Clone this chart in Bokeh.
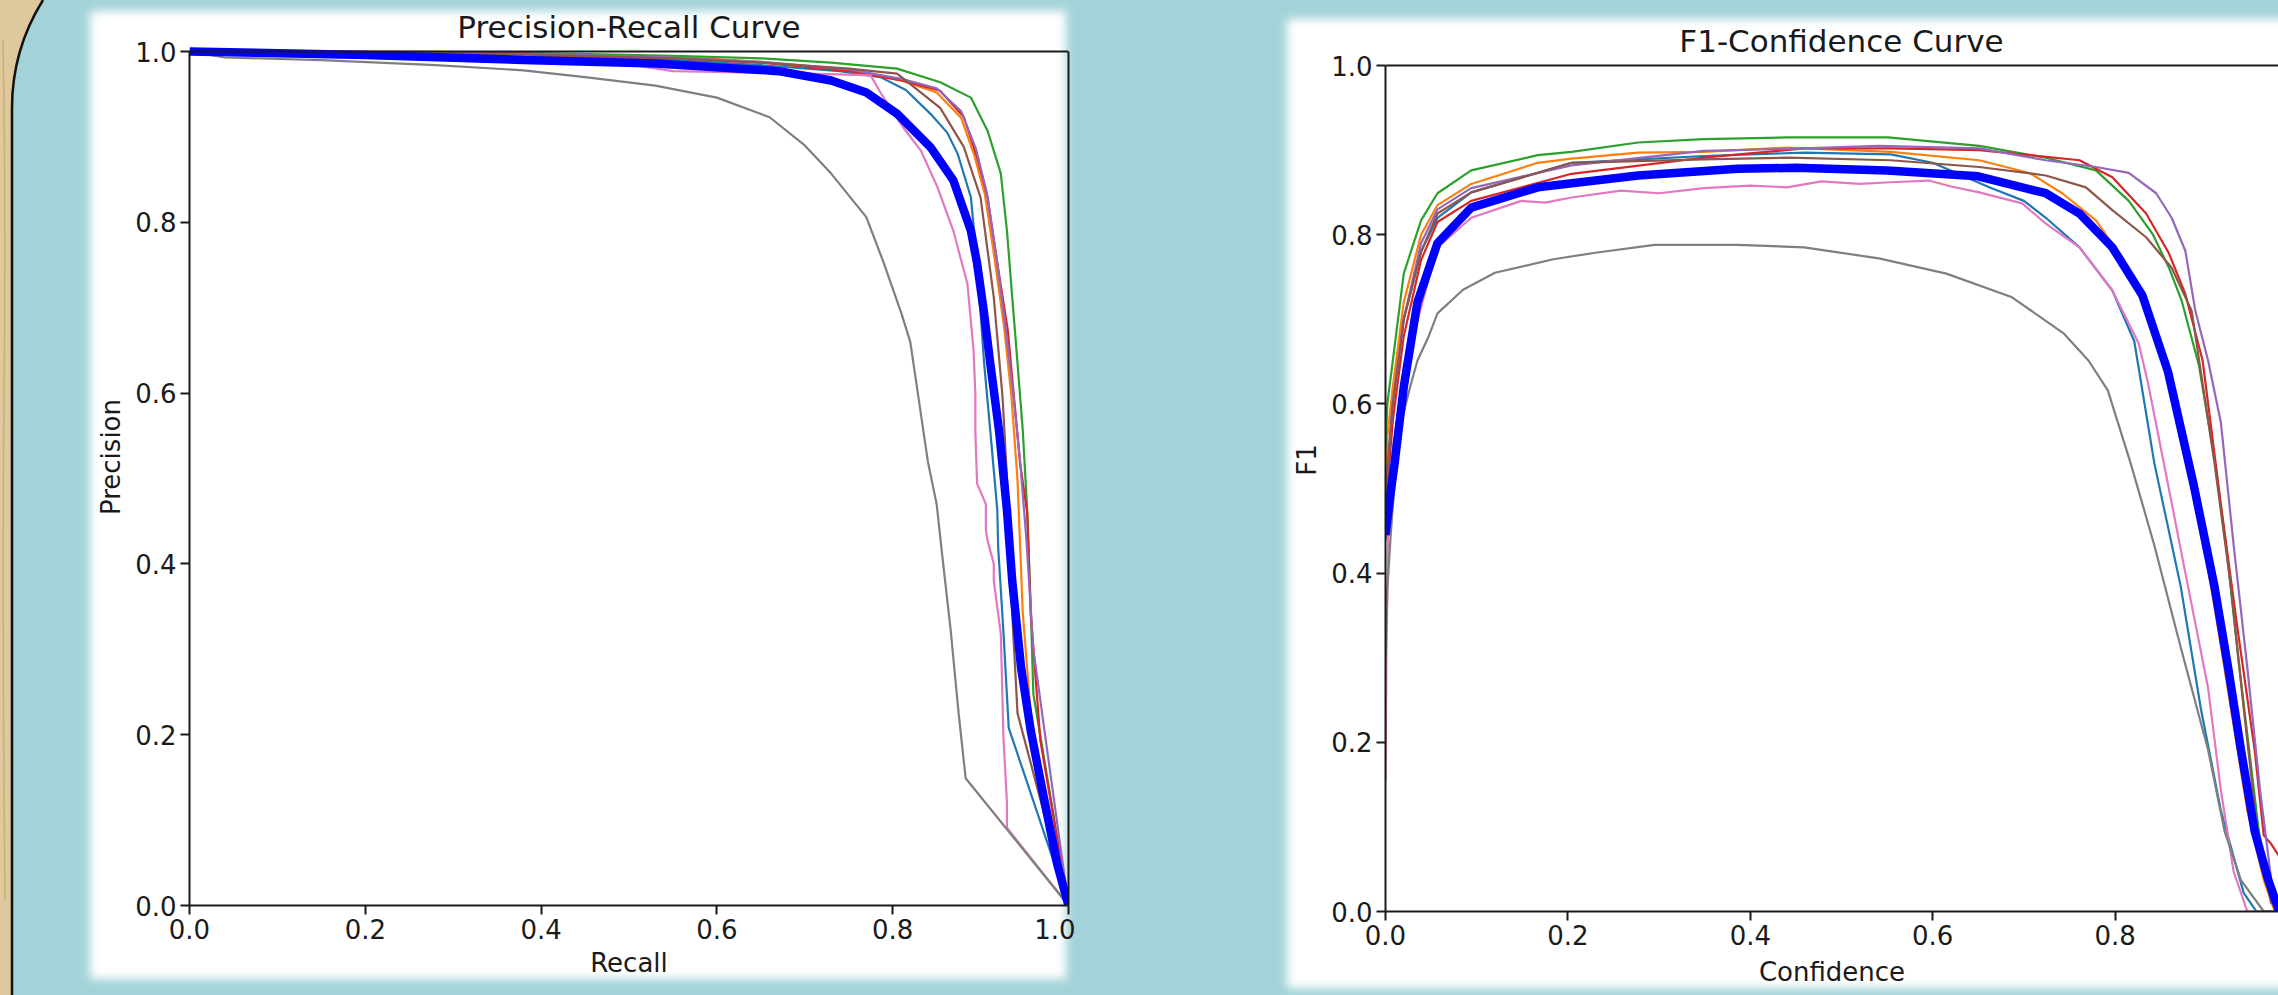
from urllib.parse import quote
from bokeh.plotting import figure
from bokeh.models import Range1d, FixedTicker, PrintfTickFormatter, Span, Label, LinearAxis
from bokeh.layouts import row
from bokeh.embed import file_html
from bokeh.resources import INLINE

# ---------------- data ----------------
PR_TITLE = "Precision-Recall Curve"
F1_TITLE = "F1-Confidence Curve"
PR_XLABEL = "Recall"
PR_YLABEL = "Precision"
F1_XLABEL = "Confidence"
F1_YLABEL = "F1"
TICKS = [0.0, 0.2, 0.4, 0.6, 0.8, 1.0]

CLASS_COLORS = ["#1f77b4", "#ff7f0e", "#2ca02c", "#d62728",
                "#9467bd", "#8c564b", "#e377c2", "#7f7f7f"]
ALL_COLOR = "#0000ff"

# Precision-Recall, one pair per class
pr_r_c0 = [0.0, 0.15, 0.3, 0.45, 0.55, 0.65, 0.74, 0.786, 0.815, 0.843, 0.862, 0.874, 0.889, 0.896, 0.904, 0.911, 0.919, 0.920, 0.926, 0.932, 1.0]
pr_p_c0 = [1.0, 0.998, 0.996, 0.993, 0.99, 0.984, 0.977, 0.970, 0.955, 0.927, 0.905, 0.88, 0.829, 0.752, 0.635, 0.556, 0.463, 0.419, 0.32, 0.208, 0.0]
pr_r_c1 = [0.0, 0.15, 0.3, 0.45, 0.55, 0.65, 0.75, 0.81, 0.85, 0.878, 0.893, 0.905, 0.916, 0.927, 0.935, 0.942, 0.948, 0.957, 0.975, 1.0]
pr_p_c1 = [1.0, 0.999, 0.998, 0.996, 0.994, 0.988, 0.978, 0.966, 0.952, 0.922, 0.878, 0.832, 0.757, 0.675, 0.597, 0.498, 0.342, 0.225, 0.10, 0.0]
pr_r_c2 = [0.0, 0.2, 0.4, 0.55, 0.65, 0.73, 0.805, 0.854, 0.889, 0.908, 0.923, 0.930, 0.936, 0.942, 0.948, 0.953, 0.957, 0.960, 1.0]
pr_p_c2 = [1.0, 0.999, 0.998, 0.995, 0.992, 0.987, 0.980, 0.964, 0.946, 0.907, 0.857, 0.790, 0.712, 0.635, 0.556, 0.463, 0.35, 0.248, 0.0]
pr_r_c3 = [0.0, 0.2, 0.38, 0.4, 0.55, 0.65, 0.75, 0.81, 0.854, 0.881, 0.896, 0.908, 0.919, 0.931, 0.938, 0.945, 0.953, 0.957, 0.968, 1.0]
pr_p_c3 = [1.0, 1.0, 0.999, 0.995, 0.992, 0.987, 0.977, 0.966, 0.954, 0.923, 0.876, 0.829, 0.752, 0.673, 0.595, 0.517, 0.46, 0.342, 0.193, 0.0]
pr_r_c4 = [0.0, 0.2, 0.4, 0.55, 0.65, 0.75, 0.81, 0.85, 0.878, 0.895, 0.907, 0.918, 0.928, 0.937, 0.945, 0.952, 0.96, 1.0]
pr_p_c4 = [1.0, 0.999, 0.997, 0.993, 0.988, 0.979, 0.968, 0.957, 0.93, 0.885, 0.835, 0.76, 0.68, 0.60, 0.52, 0.43, 0.30, 0.0]
pr_r_c5 = [0.0, 0.2, 0.4, 0.55, 0.65, 0.75, 0.805, 0.854, 0.881, 0.9, 0.915, 0.925, 0.932, 0.936, 0.942, 1.0]
pr_p_c5 = [1.0, 0.999, 0.996, 0.992, 0.987, 0.98, 0.974, 0.934, 0.888, 0.829, 0.712, 0.595, 0.463, 0.342, 0.225, 0.0]
pr_r_c6 = [0.0, 0.2, 0.4, 0.5, 0.55, 0.6, 0.65, 0.7, 0.75, 0.775, 0.786, 0.80, 0.812, 0.832, 0.851, 0.869, 0.885, 0.892, 0.894, 0.894, 0.896, 0.906, 0.906, 0.908, 0.915, 0.915, 0.923, 0.926, 0.93, 0.93, 1.0]
pr_p_c6 = [1.0, 0.997, 0.99, 0.985, 0.977, 0.976, 0.975, 0.974, 0.973, 0.972, 0.952, 0.93, 0.911, 0.884, 0.841, 0.79, 0.728, 0.65, 0.60, 0.556, 0.494, 0.47, 0.44, 0.427, 0.40, 0.38, 0.318, 0.197, 0.12, 0.091, 0.0]
pr_r_c7 = [0.0, 0.04, 0.15, 0.28, 0.38, 0.45, 0.53, 0.60, 0.66, 0.70, 0.73, 0.77, 0.79, 0.81, 0.82, 0.83, 0.84, 0.85, 0.857, 0.866, 0.875, 0.883, 1.0]
pr_p_c7 = [1.0, 0.993, 0.99, 0.984, 0.978, 0.97, 0.96, 0.946, 0.923, 0.89, 0.857, 0.806, 0.752, 0.693, 0.66, 0.59, 0.52, 0.47, 0.404, 0.322, 0.225, 0.149, 0.0]
pr_r_all = [0.0, 0.2, 0.38, 0.53, 0.67, 0.73, 0.77, 0.805, 0.843, 0.869, 0.889, 0.896, 0.904, 0.911, 0.921, 0.930, 0.936, 0.946, 0.957, 0.972, 0.987, 1.0]
pr_p_all = [1.0, 0.996, 0.99, 0.986, 0.977, 0.966, 0.952, 0.927, 0.888, 0.849, 0.79, 0.752, 0.693, 0.635, 0.556, 0.463, 0.38, 0.279, 0.205, 0.126, 0.049, 0.0]

# F1-Confidence, one pair per class
f1_c_c0 = [0.0, 0.002, 0.008, 0.02, 0.039, 0.057, 0.094, 0.204, 0.349, 0.459, 0.554, 0.60, 0.662, 0.70, 0.724, 0.761, 0.797, 0.821, 0.843, 0.872, 0.894, 0.916, 0.941, 0.955, 1.0]
f1_f_c0 = [0.45, 0.52, 0.60, 0.70, 0.78, 0.82, 0.85, 0.885, 0.893, 0.897, 0.895, 0.885, 0.856, 0.84, 0.82, 0.785, 0.734, 0.674, 0.530, 0.384, 0.240, 0.119, 0.022, 0.0, 0.0]
f1_c_c1 = [0.0, 0.002, 0.008, 0.02, 0.039, 0.057, 0.094, 0.167, 0.204, 0.277, 0.349, 0.441, 0.554, 0.651, 0.706, 0.742, 0.779, 0.815, 0.858, 0.886, 0.909, 0.927, 0.945, 0.963, 0.975, 1.0]
f1_f_c1 = [0.50, 0.56, 0.62, 0.72, 0.80, 0.835, 0.86, 0.885, 0.89, 0.897, 0.898, 0.903, 0.898, 0.888, 0.873, 0.849, 0.817, 0.761, 0.650, 0.505, 0.360, 0.240, 0.119, 0.037, 0.0, 0.0]
f1_c_c2 = [0.0, 0.002, 0.008, 0.02, 0.039, 0.057, 0.094, 0.167, 0.204, 0.277, 0.349, 0.441, 0.551, 0.651, 0.724, 0.779, 0.815, 0.841, 0.859, 0.873, 0.892, 0.909, 0.922, 0.935, 0.946, 0.957, 0.966, 0.975, 0.982, 1.0]
f1_f_c2 = [0.55, 0.60, 0.651, 0.754, 0.817, 0.849, 0.876, 0.894, 0.898, 0.909, 0.913, 0.915, 0.915, 0.905, 0.891, 0.876, 0.840, 0.801, 0.761, 0.722, 0.645, 0.535, 0.43, 0.30, 0.20, 0.10, 0.04, 0.01, 0.0, 0.0]
f1_c_c3 = [0.0, 0.002, 0.008, 0.02, 0.039, 0.057, 0.094, 0.204, 0.349, 0.459, 0.554, 0.651, 0.761, 0.797, 0.834, 0.859, 0.877, 0.896, 0.916, 0.934, 0.953, 0.963, 0.971, 0.98, 0.99, 1.0]
f1_f_c3 = [0.44, 0.50, 0.58, 0.68, 0.77, 0.815, 0.84, 0.872, 0.891, 0.902, 0.902, 0.900, 0.888, 0.868, 0.825, 0.778, 0.730, 0.651, 0.481, 0.336, 0.191, 0.09, 0.08, 0.065, 0.0, 0.0]
f1_c_c4 = [0.0, 0.002, 0.008, 0.02, 0.039, 0.057, 0.094, 0.204, 0.349, 0.459, 0.541, 0.651, 0.724, 0.779, 0.815, 0.845, 0.862, 0.877, 0.888, 0.902, 0.916, 0.930, 0.945, 0.959, 0.973, 0.985, 1.0]
f1_f_c4 = [0.45, 0.52, 0.60, 0.70, 0.79, 0.83, 0.855, 0.882, 0.899, 0.902, 0.905, 0.902, 0.888, 0.880, 0.873, 0.849, 0.820, 0.781, 0.710, 0.651, 0.578, 0.433, 0.288, 0.143, 0.022, 0.0, 0.0]
f1_c_c5 = [0.0, 0.002, 0.008, 0.02, 0.039, 0.057, 0.094, 0.204, 0.349, 0.441, 0.554, 0.651, 0.724, 0.768, 0.797, 0.834, 0.862, 0.884, 0.909, 0.927, 0.941, 0.956, 0.971, 1.0]
f1_f_c5 = [0.44, 0.52, 0.60, 0.70, 0.78, 0.825, 0.85, 0.885, 0.889, 0.891, 0.888, 0.880, 0.870, 0.856, 0.829, 0.797, 0.761, 0.710, 0.530, 0.384, 0.240, 0.095, 0.01, 0.0]
f1_c_c6 = [0.0, 0.001, 0.003, 0.008, 0.02, 0.035, 0.057, 0.094, 0.149, 0.175, 0.204, 0.258, 0.30, 0.349, 0.40, 0.44, 0.478, 0.52, 0.554, 0.596, 0.62, 0.651, 0.698, 0.724, 0.761, 0.797, 0.826, 0.836, 0.858, 0.880, 0.902, 0.916, 0.930, 0.945, 1.0]
f1_f_c6 = [0.155, 0.30, 0.45, 0.55, 0.62, 0.699, 0.785, 0.82, 0.84, 0.838, 0.844, 0.852, 0.849, 0.855, 0.858, 0.856, 0.863, 0.860, 0.862, 0.864, 0.857, 0.850, 0.837, 0.813, 0.785, 0.734, 0.671, 0.625, 0.505, 0.384, 0.264, 0.143, 0.047, 0.0, 0.0]
f1_c_c7 = [0.0, 0.002, 0.006, 0.01, 0.017, 0.027, 0.035, 0.047, 0.057, 0.085, 0.12, 0.184, 0.232, 0.295, 0.386, 0.459, 0.541, 0.615, 0.687, 0.744, 0.771, 0.792, 0.817, 0.843, 0.872, 0.902, 0.920, 0.938, 0.963, 1.0]
f1_f_c7 = [0.30, 0.38, 0.45, 0.506, 0.577, 0.62, 0.651, 0.679, 0.707, 0.735, 0.755, 0.771, 0.779, 0.788, 0.788, 0.785, 0.772, 0.754, 0.726, 0.683, 0.651, 0.616, 0.530, 0.433, 0.312, 0.191, 0.095, 0.037, 0.0, 0.0]
f1_c_all = [0.0, 0.005, 0.01, 0.02, 0.035, 0.057, 0.094, 0.167, 0.277, 0.386, 0.45, 0.55, 0.65, 0.724, 0.761, 0.797, 0.83, 0.858, 0.886, 0.909, 0.924, 0.938, 0.953, 0.968, 0.98, 1.0]
f1_f_all = [0.445, 0.49, 0.53, 0.62, 0.72, 0.79, 0.832, 0.856, 0.870, 0.878, 0.879, 0.876, 0.869, 0.849, 0.825, 0.785, 0.728, 0.638, 0.505, 0.384, 0.288, 0.191, 0.095, 0.037, 0.0, 0.0]

PR_CLASSES = [(pr_r_c0, pr_p_c0), (pr_r_c1, pr_p_c1), (pr_r_c2, pr_p_c2), (pr_r_c3, pr_p_c3),
              (pr_r_c4, pr_p_c4), (pr_r_c5, pr_p_c5), (pr_r_c6, pr_p_c6), (pr_r_c7, pr_p_c7)]
F1_CLASSES = [(f1_c_c0, f1_f_c0), (f1_c_c1, f1_f_c1), (f1_c_c2, f1_f_c2), (f1_c_c3, f1_f_c3),
              (f1_c_c4, f1_f_c4), (f1_c_c5, f1_f_c5), (f1_c_c6, f1_f_c6), (f1_c_c7, f1_f_c7)]

# ---------------- layout / style ----------------
W, H = 2278, 995
FONT = "DejaVu Sans"
TEAL = "#a3d3d8"
BEIGE = "#dfc99c"
INK = "#1a1a1a"
FRAME_TOP = 8          # both frames start here (row aligns frame tops)


def style_axes(p, xax, yax, xstand, ystand):
    for ax in (xax, yax):
        ax.ticker = FixedTicker(ticks=TICKS)
        ax.formatter = PrintfTickFormatter(format="%.1f")
        ax.major_tick_out = 9
        ax.major_tick_in = 0
        ax.minor_tick_line_color = None
        ax.axis_line_width = 2
        ax.axis_line_color = INK
        ax.major_tick_line_width = 2
        ax.major_tick_line_color = INK
        ax.major_label_text_font = FONT
        ax.major_label_text_font_size = "26px"
        ax.major_label_text_color = INK
        ax.major_label_standoff = 4
        ax.axis_label_text_font = FONT
        ax.axis_label_text_font_size = "26px"
        ax.axis_label_text_font_style = "normal"
        ax.axis_label_text_color = INK
    yax.bounds = (0, 1)
    xax.axis_label_standoff = xstand
    yax.axis_label_standoff = ystand


def make_fig(title, xlabel, ylabel, x_end, fw, one_top, zero_y, mbl, mbr, title_px, right_spine,
             xstand, ystand):
    # one_top: pixel y of value 1.0, zero_y: pixel y of value 0.0
    unit = zero_y - one_top
    fh = zero_y - FRAME_TOP
    y_end = 1.0 + (one_top - FRAME_TOP) / unit
    p = figure(frame_width=fw, frame_height=fh,
               x_range=Range1d(0, x_end), y_range=Range1d(0, y_end),
               min_border_left=mbl, min_border_top=FRAME_TOP,
               min_border_right=mbr, min_border_bottom=H - zero_y,
               output_backend="svg", toolbar_location=None)
    p.title.visible = False
    p.background_fill_alpha = 0
    p.border_fill_alpha = 0
    p.grid.visible = False
    p.outline_line_color = None
    xax = p.xaxis[0]
    yax = p.yaxis[0]
    xax.axis_label = xlabel
    yax.axis_label = ylabel
    style_axes(p, xax, yax, xstand, ystand)
    p.add_layout(Span(location=1.0, dimension="width", line_color=INK, line_width=2))
    if right_spine:
        spine = LinearAxis(bounds=(0, 1), ticker=FixedTicker(ticks=[]),
                           axis_label=None,
                           axis_line_color=INK, axis_line_width=2,
                           major_tick_out=0, major_tick_in=0, major_label_standoff=0,
                           major_tick_line_color=None, minor_tick_line_color=None,
                           major_label_text_font_size="1px")
        p.add_layout(spine, "right")
    p.add_layout(Label(x=0.5, y=1.0 + title_px / unit, x_units="data", y_units="data",
                       text=title, text_align="center", text_baseline="alphabetic",
                       text_font=FONT, text_font_size="31px", text_color=INK))
    return p


# left chart: frame x 189..1068, value 1.0 at y 51, 0.0 at y 905
P1_LEFT, P1_FW, P1_RIGHT = 189, 879, 7
p1 = make_fig(PR_TITLE, PR_XLABEL, PR_YLABEL, 1.0, P1_FW, 51, 905, P1_LEFT, P1_RIGHT, 25, True, 6, 6)
for (xs, ys), col in zip(PR_CLASSES, CLASS_COLORS):
    p1.line(xs, ys, line_color=col, line_width=2.2)
p1.line(pr_r_all, pr_p_all, line_color=ALL_COLOR, line_width=8.5)

# right chart: frame x 1385..(cut by window), 1.0 at y 65, 0.0 at y 911, 912 px per unit
P1_W = P1_LEFT + P1_FW + P1_RIGHT
P2_LEFT = 1385 - P1_W
p2_fw = W - 1385
p2 = make_fig(F1_TITLE, F1_XLABEL, F1_YLABEL, p2_fw / 912.0, p2_fw, 65, 911, P2_LEFT, 0, 25, False, 9, 6)
for (xs, ys), col in zip(F1_CLASSES, CLASS_COLORS):
    p2.line(xs, ys, line_color=col, line_width=2.2)
p2.line(f1_c_all, f1_f_all, line_color=ALL_COLOR, line_width=8.5)

svg = (
    f'<svg xmlns="http://www.w3.org/2000/svg" width="{W}" height="{H}">'
    '<defs><filter id="g" x="-5%" y="-5%" width="110%" height="110%">'
    '<feGaussianBlur stdDeviation="5"/></filter></defs>'
    f'<rect width="{W}" height="{H}" fill="{BEIGE}"/>'
    '<path d="M3 40 Q6 200 4 400 T5 900" stroke="#c9ad78" stroke-width="1.5" fill="none"/>'
    f'<path d="M12 {H} L12 108 A204 204 0 0 1 43 0 L{W} 0 L{W} {H} Z" fill="{TEAL}"/>'
    f'<path d="M12 {H + 5} L12 108 A204 204 0 0 1 43 0" fill="none" stroke="#111" stroke-width="2.5"/>'
    '<rect x="90" y="11" width="976" height="968" fill="#fff" filter="url(#g)"/>'
    '<rect x="1287" y="19" width="1100" height="969" fill="#fff" filter="url(#g)"/>'
    '</svg>'
)
bg = 'url("data:image/svg+xml;utf8,' + quote(svg) + '")'

layout = row(p1, p2, styles={
    "background-image": bg,
    "background-repeat": "no-repeat",
    "background-size": f"{W}px {H}px",
})

open("out.html", "w").write(file_html(layout, INLINE))
